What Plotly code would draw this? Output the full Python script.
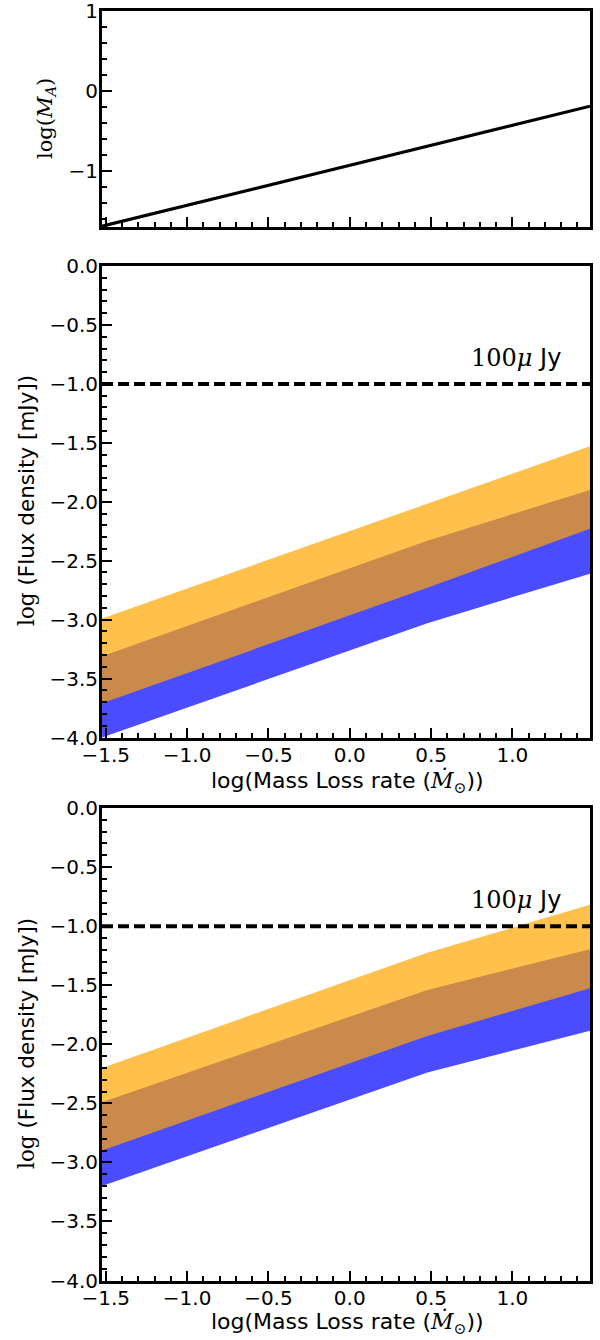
import plotly.graph_objects as go

# ---------------- data ----------------
x_mdot = [-1.523, 0.477, 1.477]          # log(Mass loss rate)
log_ma = [-1.69, -0.69, -0.19]           # top panel: log(M_A)

mid_orange_upper = [-2.99, -2.02, -1.53]
mid_orange_lower = [-3.71, -2.73, -2.23]
mid_blue_upper = [-3.31, -2.33, -1.90]
mid_blue_lower = [-4.00, -3.03, -2.61]

bot_orange_upper = [-2.20, -1.225, -0.82]
bot_orange_lower = [-2.90, -1.93, -1.525]
bot_blue_upper = [-2.49, -1.54, -1.195]
bot_blue_lower = [-3.20, -2.24, -1.886]

threshold = -1.0
threshold_label_x = 1.02
threshold_label_y = -0.78
x_range = [-1.523, 1.477]

BLUE = "rgba(0,0,255,0.7)"
ORANGE = "rgba(255,165,0,0.7)"
SERIF = "font-family:'DejaVu Serif'"

fig = go.Figure()

# top panel
fig.add_trace(go.Scatter(x=x_mdot, y=log_ma, mode="lines",
                         line=dict(color="black", width=3.2), xaxis="x", yaxis="y"))


def add_bands(xa, ya, ou, ol, bu, bl):
    fig.add_trace(go.Scatter(x=x_mdot, y=bl, mode="lines", line=dict(width=0),
                             xaxis=xa, yaxis=ya, hoverinfo="skip"))
    fig.add_trace(go.Scatter(x=x_mdot, y=bu, mode="lines", line=dict(width=0),
                             fill="tonexty", fillcolor=BLUE, xaxis=xa, yaxis=ya))
    fig.add_trace(go.Scatter(x=x_mdot, y=ol, mode="lines", line=dict(width=0),
                             xaxis=xa, yaxis=ya, hoverinfo="skip"))
    fig.add_trace(go.Scatter(x=x_mdot, y=ou, mode="lines", line=dict(width=0),
                             fill="tonexty", fillcolor=ORANGE, xaxis=xa, yaxis=ya))
    fig.add_trace(go.Scatter(x=x_range, y=[threshold, threshold], mode="lines",
                             line=dict(color="black", width=4, dash="11px,5px"),
                             xaxis=xa, yaxis=ya))


add_bands("x2", "y2", mid_orange_upper, mid_orange_lower, mid_blue_upper, mid_blue_lower)
add_bands("x3", "y3", bot_orange_upper, bot_orange_lower, bot_blue_upper, bot_blue_lower)

tickfont = dict(family="DejaVu Sans", size=20, color="black")
XDOM = [102 / 600, 590 / 600]


def ax(**kw):
    d = dict(showline=True, mirror=True, linecolor="black", linewidth=3,
             ticks="inside", ticklen=10, tickwidth=2, tickcolor="black",
             showgrid=False, zeroline=False, tickfont=tickfont, fixedrange=True,
             automargin=False, ticklabeloverflow="allow")
    d.update(kw)
    return d


def H(px):
    return 1 - px / 1340


minor01 = dict(dtick=0.1, ticks="inside", ticklen=5, tickwidth=1.5,
               tickcolor="black", showgrid=False)
minor02 = dict(dtick=0.2, ticks="inside", ticklen=5, tickwidth=1.5,
               tickcolor="black", showgrid=False)

XSO = -3
YSO = -3

layout = dict(
    width=600, height=1340, margin=dict(l=0, r=0, t=0, b=0, pad=0, autoexpand=False),
    paper_bgcolor="white", plot_bgcolor="white", showlegend=False,
    xaxis=ax(domain=XDOM, range=x_range, anchor="y", dtick=0.5, tick0=0,
             showticklabels=False, minor=minor01),
    yaxis=ax(domain=[H(227), H(11)], range=[-1.7, 1.0], anchor="x",
             tickvals=[-1, 0, 1], ticktext=["\u22121", "0", "1"], minor=minor02,
             ticklabelstandoff=YSO),
    xaxis2=ax(domain=XDOM, range=x_range, anchor="y2", dtick=0.5, tick0=0,
              tickformat=".1f", minor=minor01, ticklabelstandoff=XSO),
    yaxis2=ax(domain=[H(737.5), H(266)], range=[-4.0, 0.0], anchor="x2",
              dtick=0.5, tick0=0, tickformat=".1f", minor=minor01,
              ticklabelstandoff=YSO),
    xaxis3=ax(domain=XDOM, range=x_range, anchor="y3", dtick=0.5, tick0=0,
              tickformat=".1f", minor=minor01, ticklabelstandoff=XSO),
    yaxis3=ax(domain=[H(1280.5), H(808)], range=[-4.0, 0.0], anchor="x3",
              dtick=0.5, tick0=0, tickformat=".1f", minor=minor01,
              ticklabelstandoff=YSO),
)
fig.update_layout(**layout)

xt = "log(Mass Loss rate (<span style=\"%s\"><i>Ṁ</i><sub>⊙</sub></span>))" % SERIF
yt = "<span style=\"%s\">log</span> (Flux density [mJy])" % SERIF
top_t = "<span style=\"%s\">log(<i>M</i><sub><i>A</i></sub>)</span>" % SERIF
lab = "<span style=\"%s\">100<i>μ</i></span> Jy" % SERIF


def pann(text, xpx, ypx, angle=0, size=22):
    return dict(text=text, x=xpx / 600, y=H(ypx), xref="paper", yref="paper",
                xanchor="center", yanchor="middle", textangle=angle,
                showarrow=False, font=dict(family="DejaVu Sans", size=size, color="black"))


annotations = [
    pann(top_t, 46, 119, -90, 21),
    pann(yt, 26, 501, -90, 21.5),
    pann(yt, 26, 1044, -90, 21.5),
    pann(xt, 347, 782, 0, 22),
    pann(xt, 347, 1323, 0, 22),
    dict(text=lab, x=threshold_label_x, y=threshold_label_y, xref="x2", yref="y2",
         xanchor="center", yanchor="middle", showarrow=False,
         font=dict(family="DejaVu Sans", size=24, color="black")),
    dict(text=lab, x=threshold_label_x, y=threshold_label_y, xref="x3", yref="y3",
         xanchor="center", yanchor="middle", showarrow=False,
         font=dict(family="DejaVu Sans", size=24, color="black")),
]
fig.update_layout(annotations=annotations)

fig.write_html("out.html")
